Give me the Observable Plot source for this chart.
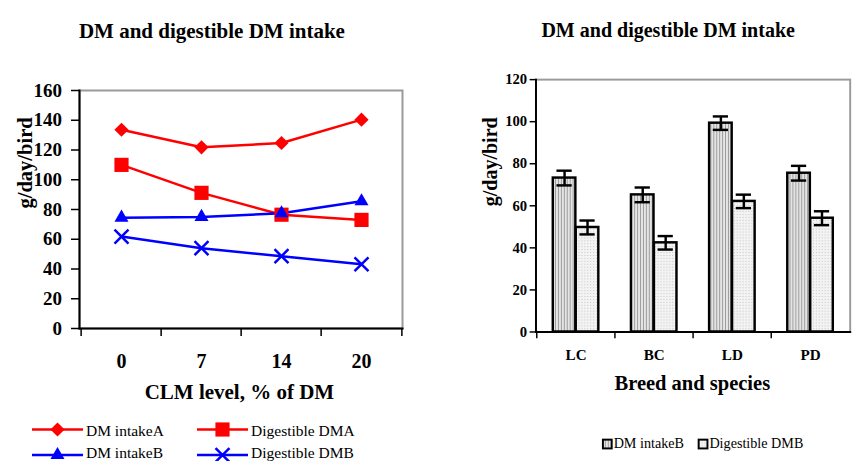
<!DOCTYPE html>
<html><head><meta charset="utf-8">
<script src="https://cdn.jsdelivr.net/npm/d3@7"></script>
<script src="https://cdn.jsdelivr.net/npm/@observablehq/plot@0.6"></script>
<style>
html,body{margin:0;padding:0;background:#fff;overflow:hidden;}
#wrap{position:relative;width:854px;height:461px;overflow:hidden;background:#fff;}
#left,#right{position:absolute;top:0;}
#left{left:0;} #right{left:429px;}
svg [aria-label$="tick label"]{font-weight:bold;}
</style></head><body><div id="wrap"><div id="left"></div><div id="right"></div></div>
<script>
// ---------- data ----------
const chartTitle = "DM and digestible DM intake";
const yLabel = "g/day/bird";

// left chart (line chart)
const clmLevels = ["0", "7", "14", "20"];
const leftSeries = ["DM intakeA", "Digestible DMA", "DM intakeB", "Digestible DMB"];
const dmIntakeA = [133.6, 121.8, 124.7, 140.4];
const digestibleDMA = [110, 91.2, 76.5, 73];
const dmIntakeB = [74.5, 75, 77.5, 85.5];
const digestibleDMB = [61.8, 54, 48.6, 43.2];
const leftYTicks = [0, 20, 40, 60, 80, 100, 120, 140, 160];
const leftXLabel = "CLM level, % of DM";

// right chart (bar chart)
const breeds = ["LC", "BC", "LD", "PD"];
const barSeries = ["DM intakeB", "Digestible DMB"];
const dmIntakeBars = [73.2, 65.2, 99.3, 75.5];
const dmIntakeErr = [3.5, 3.5, 3.2, 3.5];
const digestibleBars = [49.7, 42.4, 62.1, 54.1];
const digestibleErr = [3.3, 3.2, 3.2, 3.3];
const rightYTicks = [0, 20, 40, 60, 80, 100, 120];
const rightXLabel = "Breed and species";

// ---------- tables ----------
const leftValues = [dmIntakeA, digestibleDMA, dmIntakeB, digestibleDMB];
const leftData = leftSeries.flatMap((s, si) => clmLevels.map((lv, i) => ({series: s, level: lv, value: leftValues[si][i]})));
const seriesColor = {"DM intakeA": "#ff0000", "Digestible DMA": "#ff0000", "DM intakeB": "#0000ff", "Digestible DMB": "#0000ff"};
const seriesSymbol = {"DM intakeA": ["diamond2", 6.4], "Digestible DMA": ["square", 8], "DM intakeB": ["triangle", 5.2], "Digestible DMB": ["times", 6.4]};

const barData = breeds.flatMap((b, i) => [
  {breed: b, series: barSeries[0], value: dmIntakeBars[i], err: dmIntakeErr[i]},
  {breed: b, series: barSeries[1], value: digestibleBars[i], err: digestibleErr[i]}
]);

const FONT = "'Liberation Serif', 'Times New Roman', serif";
const baseStyle = {fontFamily: FONT, color: "#000", background: "transparent", overflow: "visible"};

// ---------- left chart ----------
const LW = 425, LH = 461, LM = {top: 90, right: 23, bottom: 133, left: 79};
const lbw = (LW - LM.left - LM.right) / clmLevels.length;

const leftMarks = [
  Plot.frame({stroke: "#9a9a9a", strokeWidth: 2}),
  Plot.frame({anchor: "left", stroke: "#000", strokeWidth: 2}),
  Plot.frame({anchor: "bottom", stroke: "#000", strokeWidth: 2}),
  Plot.axisY({ticks: leftYTicks, tickSize: 8, tickPadding: 9.5, fontSize: 19, fontWeight: "bold", strokeWidth: 1.5, label: null}),
  Plot.axisX({tickSize: 0, tickPadding: 25, fontSize: 20, fontWeight: "bold", label: null}),
  Plot.axisX({tickSize: 8, tickFormat: () => "", dx: -lbw / 2, strokeWidth: 1.5, label: null}),
  Plot.axisX({ticks: [clmLevels[clmLevels.length - 1]], tickSize: 8, tickFormat: () => "", dx: lbw / 2, strokeWidth: 1.5, label: null}),
  Plot.line(leftData, {x: "level", y: "value", z: "series", stroke: d => seriesColor[d.series], strokeWidth: 2.5})
];
for (const s of leftSeries) {
  const [sym, r] = seriesSymbol[s];
  const rows = leftData.filter(d => d.series === s);
  if (sym === "times") leftMarks.push(Plot.dot(rows, {x: "level", y: "value", symbol: sym, r, stroke: seriesColor[s], strokeWidth: 2.5}));
  else leftMarks.push(Plot.dot(rows, {x: "level", y: "value", symbol: sym, r, fill: seriesColor[s], stroke: "none"}));
}
leftMarks.push(
  Plot.text([chartTitle], {text: d => d, frameAnchor: "top", dx: -29.1, dy: -67.1, fontSize: 21, fontWeight: "bold"}),
  Plot.text([yLabel], {text: d => d, frameAnchor: "left", rotate: -90, dx: -54.5, dy: -1, fontSize: 20.5, fontWeight: "bold"}),
  Plot.text([leftXLabel], {text: d => d, frameAnchor: "bottom", dx: -1.6, dy: 70.6, fontSize: 21, fontWeight: "bold"})
);

const leftPlot = Plot.plot({
  width: LW, height: LH,
  marginTop: LM.top, marginRight: LM.right, marginBottom: LM.bottom, marginLeft: LM.left,
  style: baseStyle,
  x: {type: "band", domain: clmLevels, padding: 0, axis: null},
  y: {domain: [0, 160], axis: null},
  marks: leftMarks
});
document.getElementById("left").appendChild(leftPlot);

// left legend
{
  const svg = d3.select(leftPlot);
  const g = svg.append("g").attr("font-family", FONT).attr("font-size", 15.5).attr("text-anchor", "start");
  const items = [
    {s: leftSeries[0], x: 32, y: 429.5},
    {s: leftSeries[1], x: 197, y: 429.5},
    {s: leftSeries[2], x: 32, y: 455},
    {s: leftSeries[3], x: 197, y: 455}
  ];
  const symMap = {diamond2: d3.symbolDiamond2, square: d3.symbolSquare, triangle: d3.symbolTriangle, times: d3.symbolTimes};
  for (const it of items) {
    const col = seriesColor[it.s];
    const [sym, r] = seriesSymbol[it.s];
    g.append("line").attr("x1", it.x).attr("x2", it.x + 51).attr("y1", it.y).attr("y2", it.y)
      .attr("stroke", col).attr("stroke-width", 2.5);
    const p = g.append("path").attr("transform", `translate(${it.x + 25.5},${it.y})`)
      .attr("d", d3.symbol(symMap[sym], Math.PI * r * r)());
    if (sym === "times") p.attr("fill", "none").attr("stroke", col).attr("stroke-width", 2.5);
    else p.attr("fill", col);
    g.append("text").attr("x", it.x + 54).attr("y", Math.min(it.y + 6.5, 457.5)).attr("fill", "#000").text(it.s);
  }
}

// ---------- right chart ----------
const RX = 429, RW = 435, RH = 461, RM = {top: 81, right: 4.4, bottom: 121.7, left: 109};
const rbw = (RW - RM.left - RM.right) / breeds.length;
const barW = 23.5, sideGap = (rbw - 2 * barW) / 2, capHalf = 8;
const fillFor = {"DM intakeB": "url(#pStripe)", "Digestible DMB": "url(#pDots)"};

const rightMarks = [
  Plot.frame({stroke: "#9a9a9a", strokeWidth: 2}),
  Plot.frame({anchor: "left", stroke: "#000", strokeWidth: 2}),
  Plot.frame({anchor: "bottom", stroke: "#000", strokeWidth: 2}),
  Plot.axisY({ticks: rightYTicks, tickSize: 6, tickPadding: 3, fontSize: 15, fontWeight: "bold", strokeWidth: 1.5, label: null}),
  Plot.axisX({tickSize: 0, tickPadding: 18, fontSize: 15.5, fontWeight: "bold", label: null}),
  Plot.axisX({tickSize: 7, tickFormat: () => "", dx: -rbw / 2, strokeWidth: 1.5, label: null})
];
barSeries.forEach((s, si) => {
  const rows = barData.filter(d => d.series === s);
  const inL = si === 0 ? sideGap : sideGap + barW;
  const inR = rbw - inL - barW;
  const center = inL + barW / 2;
  rightMarks.push(
    Plot.barY(rows, {x: "breed", y: "value", fill: fillFor[s], stroke: "#000", strokeWidth: 2.5, insetLeft: inL, insetRight: inR}),
    Plot.ruleX(rows, {x: "breed", y1: d => d.value - d.err, y2: d => d.value + d.err, dx: center - rbw / 2, stroke: "#000", strokeWidth: 2.5}),
    Plot.tickY(rows, {x: "breed", y: d => d.value + d.err, insetLeft: center - capHalf, insetRight: rbw - center - capHalf, stroke: "#000", strokeWidth: 2.5}),
    Plot.tickY(rows, {x: "breed", y: d => d.value - d.err, insetLeft: center - capHalf, insetRight: rbw - center - capHalf, stroke: "#000", strokeWidth: 2.5})
  );
});
rightMarks.push(
  Plot.text([chartTitle], {text: d => d, frameAnchor: "top", dx: -25.5, dy: -58.1, fontSize: 20.5, fontWeight: "bold"}),
  Plot.text([yLabel], {text: d => d, frameAnchor: "left", rotate: -90, dx: -46.5, dy: 0.5, fontSize: 20.5, fontWeight: "bold"}),
  Plot.text([rightXLabel], {text: d => d, frameAnchor: "bottom", dx: -0.8, dy: 59.3, fontSize: 21, fontWeight: "bold"})
);

const rightPlot = Plot.plot({
  width: RW, height: RH,
  marginTop: RM.top, marginRight: RM.right, marginBottom: RM.bottom, marginLeft: RM.left,
  style: baseStyle,
  x: {type: "band", domain: breeds, padding: 0, axis: null},
  y: {domain: [0, 120], axis: null},
  marks: rightMarks
});
document.getElementById("right").appendChild(rightPlot);

// patterns + right legend
{
  const svg = d3.select(rightPlot);
  const defs = svg.insert("defs", ":first-child");
  const p1 = defs.append("pattern").attr("id", "pStripe").attr("width", 3).attr("height", 4).attr("patternUnits", "userSpaceOnUse");
  p1.append("rect").attr("width", 3).attr("height", 4).attr("fill", "#e4e4e4");
  p1.append("rect").attr("width", 1).attr("height", 4).attr("fill", "#9c9c9c");
  const p2 = defs.append("pattern").attr("id", "pDots").attr("width", 3).attr("height", 3).attr("patternUnits", "userSpaceOnUse");
  p2.append("rect").attr("width", 3).attr("height", 3).attr("fill", "#f3f3f3");
  p2.append("rect").attr("width", 1).attr("height", 1).attr("fill", "#c4c4c4");

  const g = svg.append("g").attr("font-family", FONT).attr("font-size", 14.5).attr("text-anchor", "start");
  const items = [{s: barSeries[0], x: 607 - RX}, {s: barSeries[1], x: 705 - RX}];
  for (const it of items) {
    g.append("rect").attr("x", it.x).attr("y", 450).attr("width", 9).attr("height", 9)
      .attr("fill", fillFor[it.s]).attr("stroke", "#000").attr("stroke-width", 2);
    g.append("text").attr("x", it.x + 11).attr("y", 458.5).attr("fill", "#000").text(it.s);
  }
}
</script></body></html>
